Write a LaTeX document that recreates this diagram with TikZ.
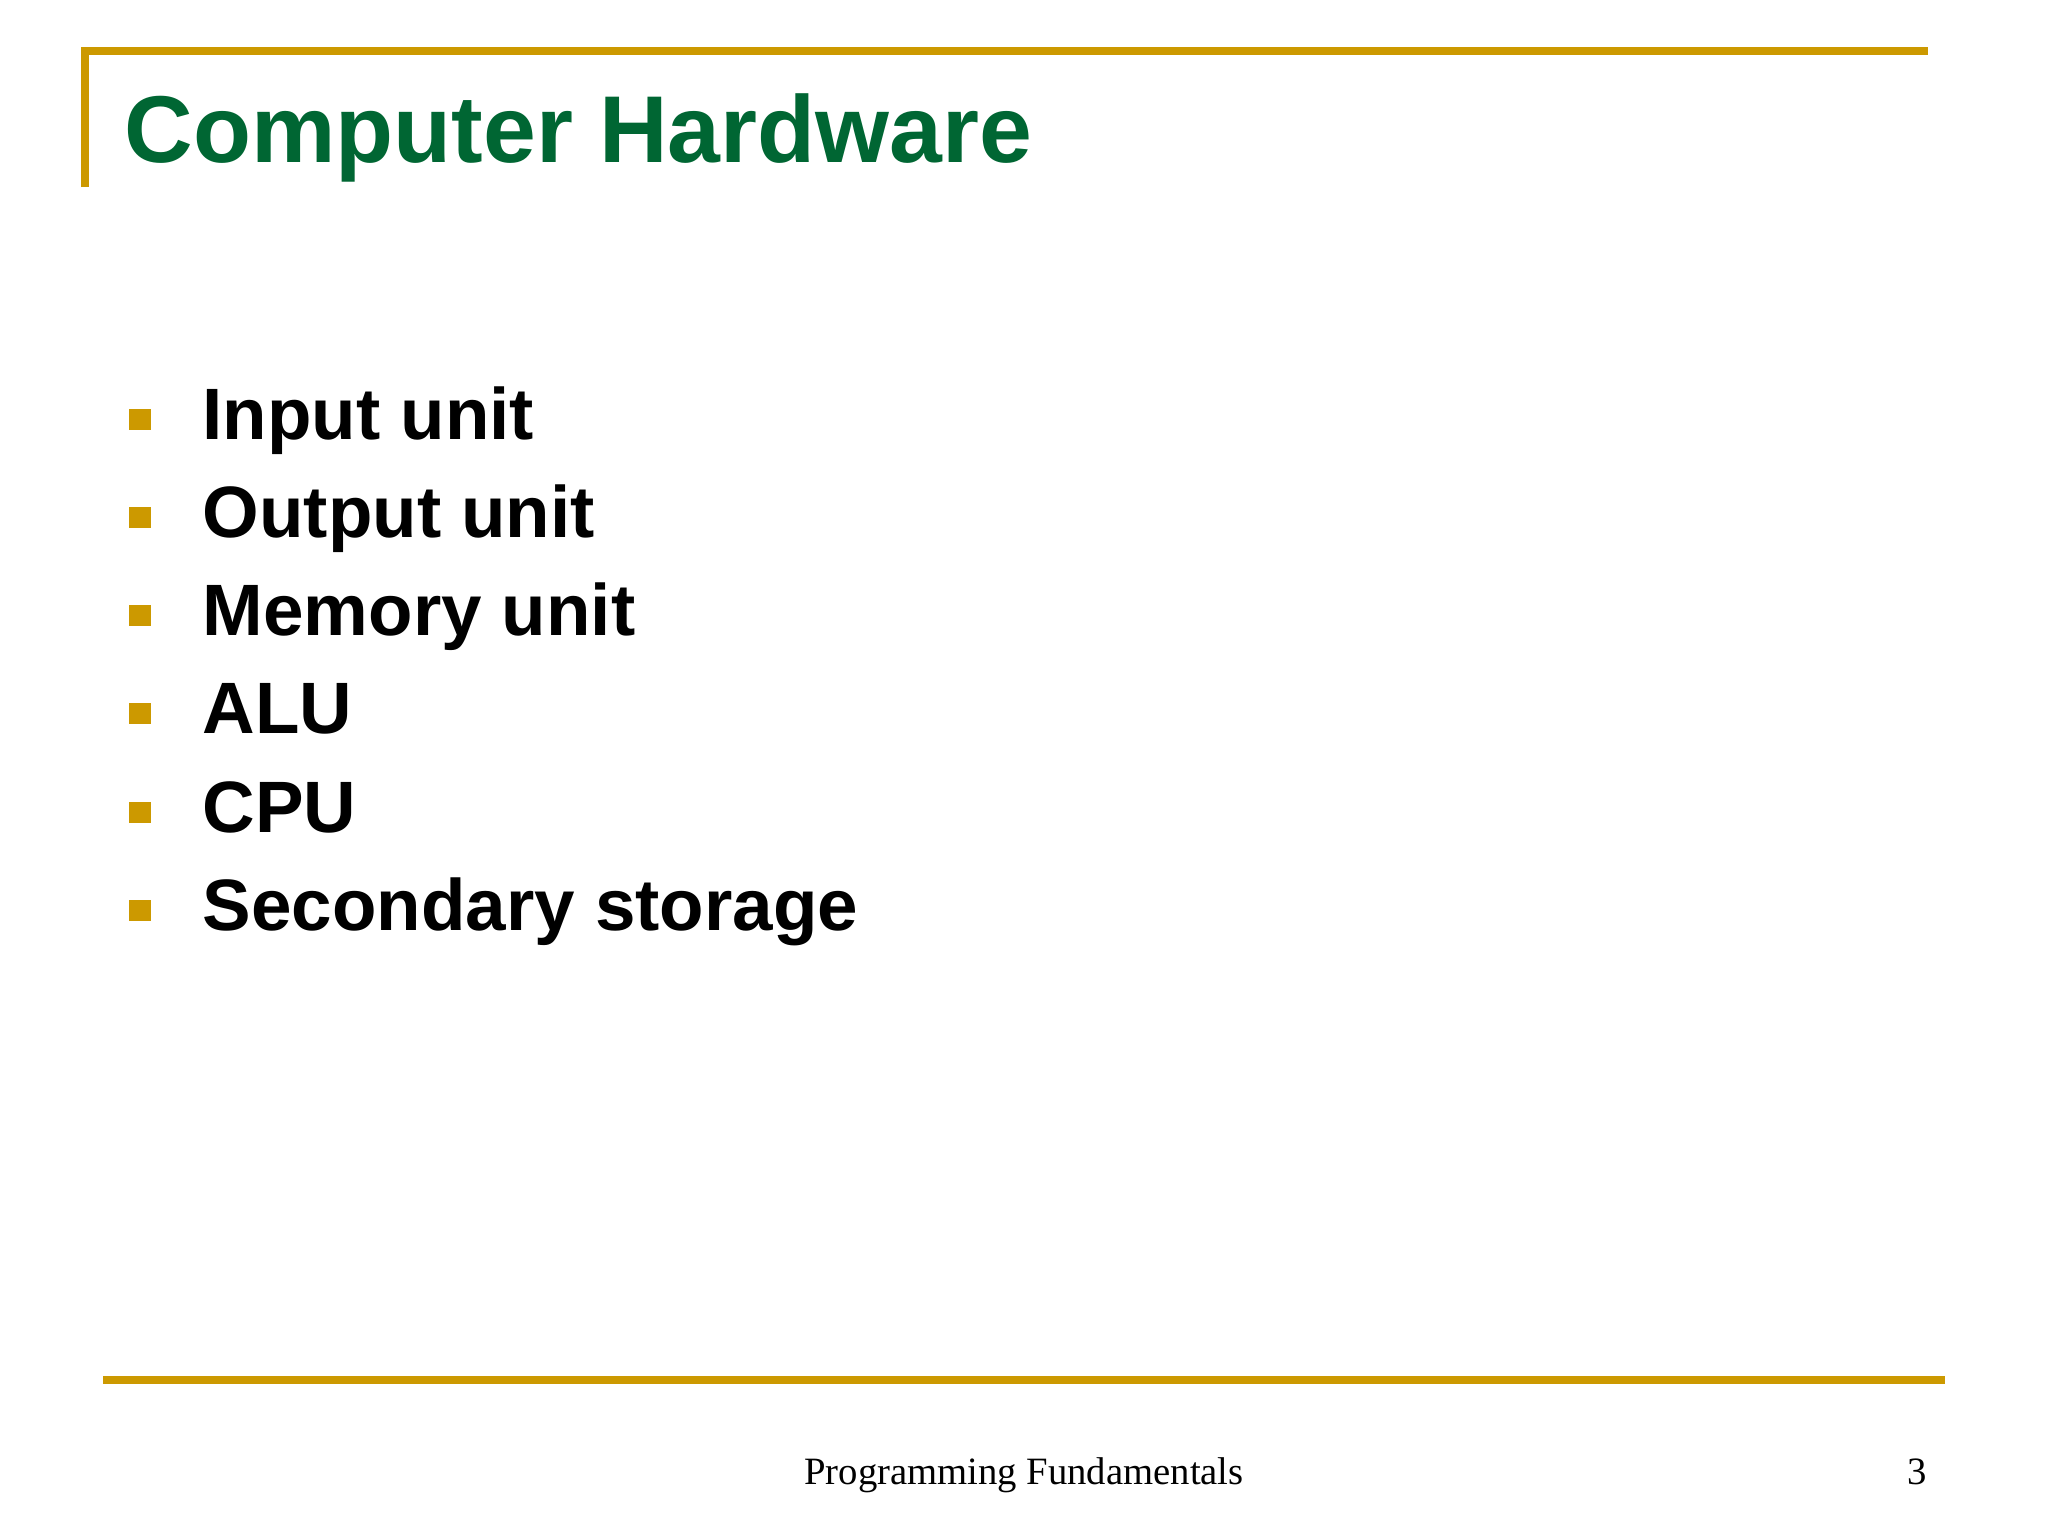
\documentclass[tikz,border=0pt]{standalone}
\usepackage{fontspec}
\setmainfont{Liberation Sans}
\newfontfamily\footfont{Liberation Serif}
\definecolor{gold}{RGB}{204,153,0}
\definecolor{titlegreen}{RGB}{0,102,51}
\begin{document}
\begin{tikzpicture}[x=0.01cm,y=-0.01cm,
  rule/.style={draw=gold,line width=2.2pt},
  bul/.style={fill=gold,draw=none,minimum size=0.21cm,inner sep=0pt},
  item/.style={anchor=base west,inner sep=0pt,font=\fontsize{20.7pt}{24pt}\selectfont\bfseries}]
\useasboundingbox (0,0) rectangle (2048,1536);
\fill[white] (0,0) rectangle (2048,1536);
\draw[rule] (85,187) -- (85,51) -- (1928,51);
\draw[rule] (103,1380) -- (1945,1380);
\node[anchor=base west,inner sep=0pt,text=titlegreen,font=\fontsize{27pt}{32pt}\selectfont\bfseries] (title) at (124,162) {Computer Hardware};
\foreach \t [count=\i from 0] in {Input unit,Output unit,Memory unit,ALU,CPU,Secondary storage}{
  \node[bul] (b\i) at (140,419+98.3*\i) {};
  \node[item] (t\i) at (202,439+98.3*\i) {\t};
}
\node[anchor=base,inner sep=0pt,font=\footfont\fontsize{11pt}{13pt}\selectfont] (foot) at (1024,1484) {Programming Fundamentals};
\node[anchor=base,inner sep=0pt,font=\footfont\fontsize{11pt}{13pt}\selectfont] (num) at (1917,1484) {3};
\end{tikzpicture}
\end{document}
